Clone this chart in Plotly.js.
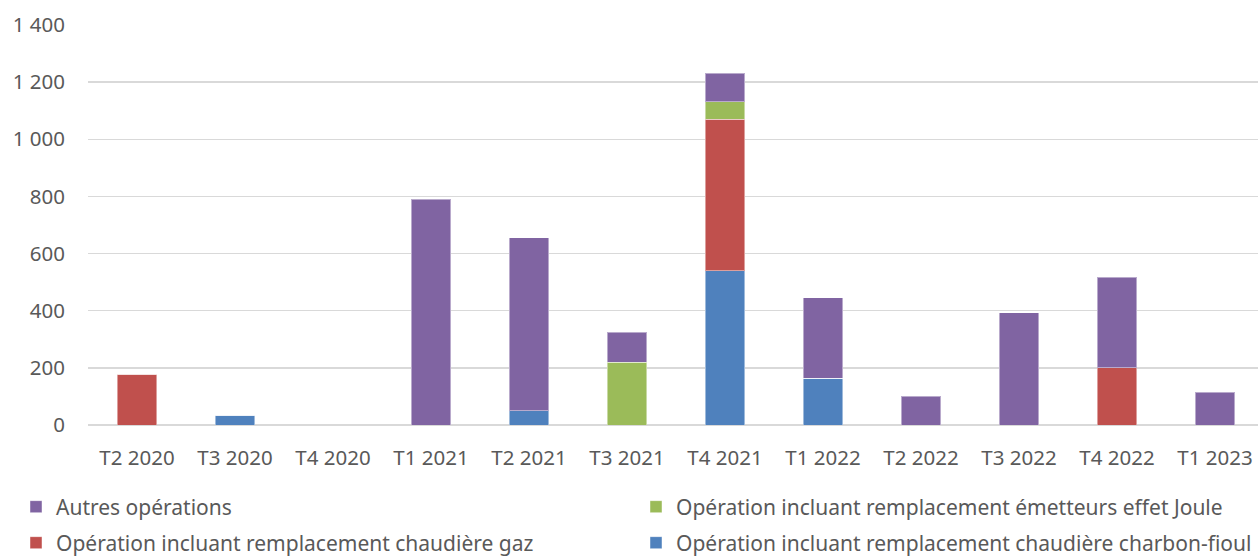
<!DOCTYPE html>
<html><head><meta charset="utf-8">
<script src="https://cdn.plot.ly/plotly-3.0.1.min.js"></script>
<style>html,body{margin:0;padding:0;overflow:hidden;background:#fff}</style>
</head><body><div id="chart"></div>
<script>
const categories = ["T2 2020","T3 2020","T4 2020","T1 2021","T2 2021","T3 2021","T4 2021","T1 2022","T2 2022","T3 2022","T4 2022","T1 2023"];
const charbonFioul = [0,35,0,0,50,0,540,163,0,0,0,0];
const chaudiereGaz = [178,0,0,0,0,0,531,0,0,0,200,0];
const effetJoule   = [0,0,0,0,0,220,61,0,0,0,0,0];
const autres       = [0,0,0,790,605,105,99,283,100,393,317,114];
const yTicks = [0,200,400,600,800,1000,1200,1400];

const font = "Noto Sans, Open Sans, sans-serif";
const line = {color:'rgba(255,255,255,0.45)', width:1};
const traces = [
  {type:'bar', x:categories, y:charbonFioul, name:'Opération incluant remplacement chaudière charbon-fioul', marker:{color:'#4F81BD', line}, legend:'legend4'},
  {type:'bar', x:categories, y:chaudiereGaz, name:'Opération incluant remplacement chaudière gaz', marker:{color:'#C0504D', line}, legend:'legend3'},
  {type:'bar', x:categories, y:effetJoule, name:'Opération incluant remplacement émetteurs effet Joule', marker:{color:'#9BBB59', line}, legend:'legend2'},
  {type:'bar', x:categories, y:autres, name:'Autres opérations', marker:{color:'#8064A2', line}, legend:'legend'}
];
const W = 1265;
function leg(px, py) {
  return {orientation:'h', xref:'container', yref:'container', xanchor:'left', yanchor:'middle',
    x:px / W, y:1 - py / 556, font:{family:font, size:21, color:'#595959'}, itemwidth:30, bgcolor:'rgba(0,0,0,0)'};
}
const layout = {
  width:W, height:556,
  margin:{l:88, r:1, t:25, b:131},
  barmode:'stack', bargap:0.6,
  separators:', ',
  paper_bgcolor:'#fff', plot_bgcolor:'#fff',
  font:{family:font, color:'#595959', size:20.5},
  showlegend:true,
  legend:leg(16, 507),
  legend2:leg(636, 507),
  legend3:leg(16, 543),
  legend4:leg(636, 543),
  xaxis:{type:'category', tickfont:{family:font, size:20.5, color:'#595959'}, ticks:'', showgrid:false, showline:false, zeroline:false, ticklabelstandoff:18, fixedrange:true},
  yaxis:{range:[0,1400], tickvals:yTicks, separatethousands:true, tickfont:{family:font, size:20.5, color:'#595959'}, ticks:'', showgrid:true, gridcolor:'#D9D9D9', gridwidth:1.5, zeroline:true, zerolinecolor:'#D9D9D9', zerolinewidth:1.5, showline:false, ticklabelstandoff:22, fixedrange:true}
};
Plotly.newPlot('chart', traces, layout, {displayModeBar:false, staticPlot:true});
</script></body></html>
